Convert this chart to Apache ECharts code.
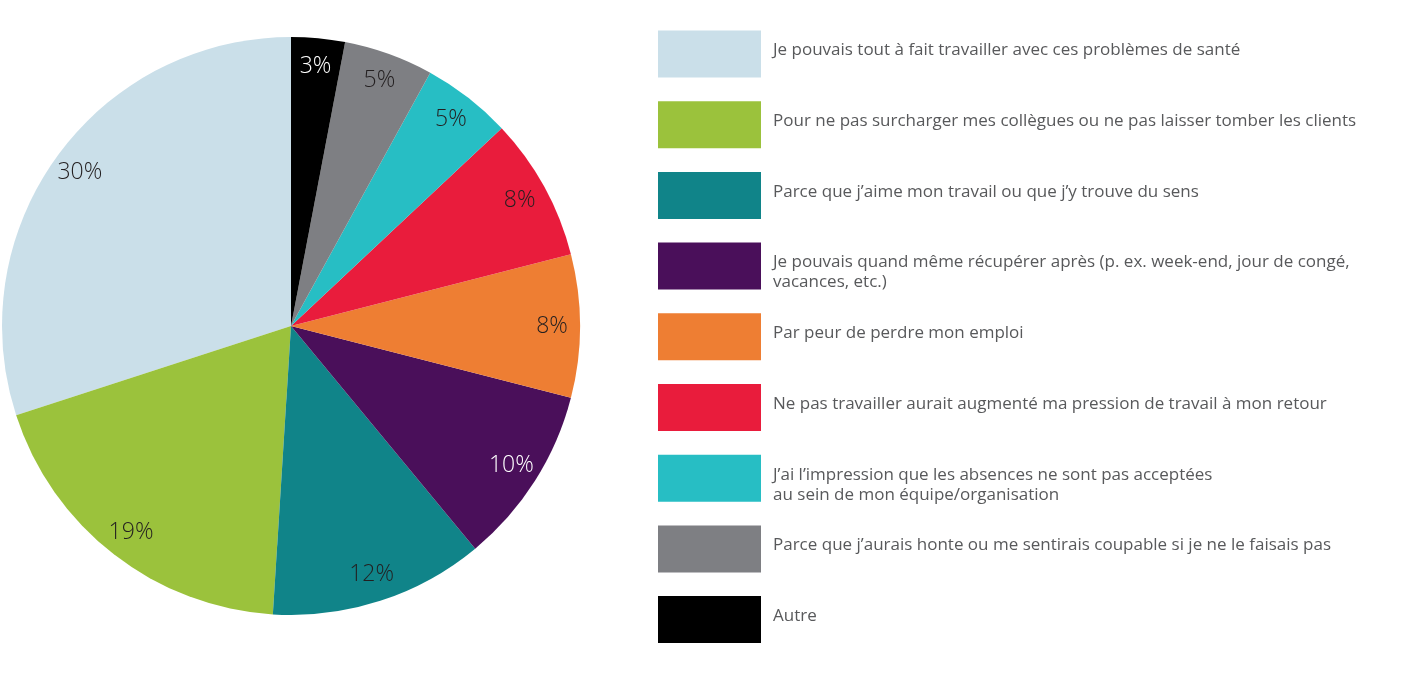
<!DOCTYPE html>
<html>
<head>
<meta charset="UTF-8">
<title>Raisons de travailler malgré des problèmes de santé</title>
<script src="https://cdn.jsdelivr.net/npm/echarts@6/dist/echarts.min.js"></script>
<style>
  html, body { margin: 0; padding: 0; background: #fff; }
  #chart { width: 1406px; height: 674px; }
</style>
</head>
<body>
<div id="chart"></div>
<script>
// categories, in legend order (the pie runs counter-clockwise from the top in this order)
var categories = [
    'Je pouvais tout à fait travailler avec ces problèmes de santé',
    'Pour ne pas surcharger mes collègues ou ne pas laisser tomber les clients',
    'Parce que j\u2019aime mon travail ou que j\u2019y trouve du sens',
    'Je pouvais quand même récupérer après (p. ex. week-end, jour de congé,\nvacances, etc.)',
    'Par peur de perdre mon emploi',
    'Ne pas travailler aurait augmenté ma pression de travail à mon retour',
    'J\u2019ai l\u2019impression que les absences ne sont pas acceptées\nau sein de mon équipe/organisation',
    'Parce que j\u2019aurais honte ou me sentirais coupable si je ne le faisais pas',
    'Autre'
];
var values = [30, 19, 12, 10, 8, 8, 5, 5, 3];

// colours
var colors = ['#cadfe9', '#9bc23c', '#108489', '#4a0f5a', '#ee7e33', '#e91c3c', '#27bec4', '#7e7f83', '#000000'];
var labelColors = ['#231f20', '#231f20', '#231f20', '#ffffff', '#231f20', '#231f20', '#231f20', '#231f20', '#ffffff'];

var chart = echarts.init(document.getElementById('chart'));

var pieData = categories.map(function (name, i) {
    return { name: name, value: values[i], itemStyle: { color: colors[i] } };
});

// transparent ring on top, only used to place the percentages near the rim
var labelData = categories.map(function (name, i) {
    return {
        name: name,
        value: values[i],
        itemStyle: { color: 'rgba(0,0,0,0)' },
        label: { color: labelColors[i] }
    };
});

var option = {
    animation: false,
    legend: {
        orient: 'vertical',
        left: 658,
        top: 29,
        padding: 0,
        icon: 'rect',
        itemWidth: 103,
        itemHeight: 47,
        itemGap: 20.7,
        selectedMode: false,
        // a small blank line on top + always two text lines, so the text hangs from the top of the swatch
        formatter: function (name) {
            var lines = name.split('\n');
            if (lines.length < 2) lines.push(' ');
            return '{s| }\n' + lines.map(function (l) { return '{t|' + l + '}'; }).join('\n');
        },
        textStyle: {
            padding: [0, 0, 0, 7],
            rich: {
                s: { fontSize: 10, lineHeight: 13 },
                t: {
                    fontFamily: 'Open Sans',
                    fontSize: 17,
                    lineHeight: 20,
                    color: '#58595b'
                }
            }
        },
        data: categories
    },
    series: [{
        name: 'main',
        type: 'pie',
        center: [291, 326],
        radius: [0, 289],
        startAngle: 90,
        clockwise: false,
        silent: true,
        label: { show: false },
        labelLine: { show: false },
        data: pieData
    }, {
        name: 'labels',
        type: 'pie',
        center: [291, 326],
        radius: [227, 289],
        startAngle: 90,
        clockwise: false,
        silent: true,
        label: {
            show: true,
            position: 'inside',
            formatter: '{c}%',
            fontFamily: 'Open Sans',
            fontWeight: 300,
            fontSize: 23
        },
        labelLine: { show: false },
        data: labelData
    }]
};

chart.setOption(option);
</script>
</body>
</html>
